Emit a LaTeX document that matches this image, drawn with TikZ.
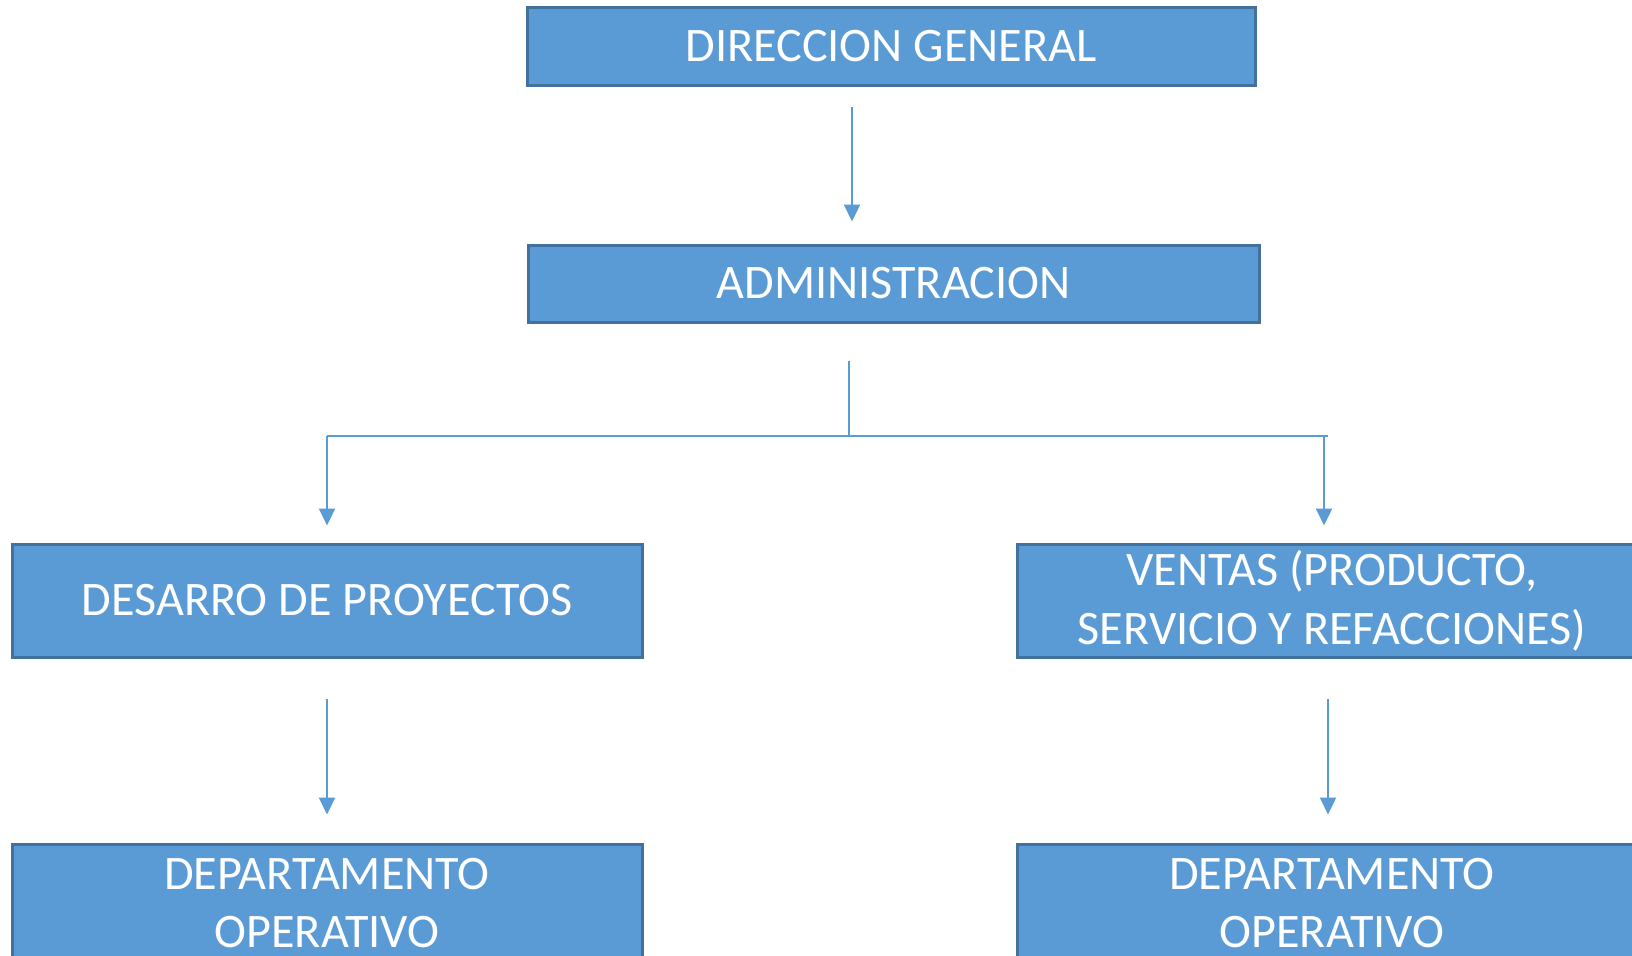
\documentclass[tikz,border=0pt]{standalone}
\usepackage{fontspec}
\setmainfont{Carlito}
\usepackage{tikz}
\usetikzlibrary{arrows.meta,calc,positioning}
\definecolor{boxfill}{HTML}{5B9BD5}
\definecolor{boxline}{HTML}{41719C}
\tikzset{
    >={Triangle[width=0.16cm,length=0.17cm]},
    unidad/.style={
        rectangle,
        fill=boxfill,
        draw=boxline, line width=0.03cm,
        text=white,
        inner sep=0pt,
        minimum width=6.3cm,
        align=center,
        font={\fontsize{13.7pt}{16.7pt}\selectfont}
    },
    line/.style={draw=boxfill, line width=0.022cm},
}

\begin{document}
\begin{tikzpicture}
\useasboundingbox (0,0) rectangle (16.32,-9.55);

\node [unidad, minimum width=7.28cm, minimum height=0.78cm] (dirgen) at (8.91,-0.46) {DIRECCION GENERAL};
\node [unidad, minimum width=7.31cm, minimum height=0.77cm] (admin) at (8.935,-2.835) {ADMINISTRACION};

\node [unidad, minimum height=1.13cm] (desarrollo) at (3.27,-6.005) {DESARRO DE PROYECTOS};
\node [unidad, minimum height=1.13cm] (ventas) at (13.32,-6.005) {VENTAS (PRODUCTO,\\SERVICIO Y REFACCIONES)};

\node [unidad, minimum height=1.18cm] (deptoizq) at (3.27,-9.03) {DEPARTAMENTO\\OPERATIVO};
\node [unidad, minimum height=1.18cm] (deptoder) at (13.32,-9.03) {DEPARTAMENTO\\OPERATIVO};

\draw [line, ->, shorten <=0.2cm, shorten >=0.22cm] ([xshift=-0.39cm]dirgen.south) -- ([xshift=-0.415cm]admin.north);

% branch
\coordinate (split) at (8.49,-4.36);
\draw [line, shorten <=0.37cm] (admin.south -| split) -- (split);
\draw [line] (desarrollo.north |- split) -- ($(ventas.north |- split)+(-0.04,0)$);
\draw [line, ->, shorten >=0.17cm] (desarrollo.north |- split) -- (desarrollo.north);
\draw [line, ->, shorten >=0.17cm] ($(ventas.north |- split)+(-0.08,0)$) -- ($(ventas.north)+(-0.08,0)$);

\foreach \a/\b/\s in {desarrollo/deptoizq/0, ventas/deptoder/-0.04}
  \draw [line, ->, shorten <=0.4cm, shorten >=0.28cm] ([xshift=\s cm]\a.south) -- ([xshift=\s cm]\b.north);

\end{tikzpicture}
\end{document}
